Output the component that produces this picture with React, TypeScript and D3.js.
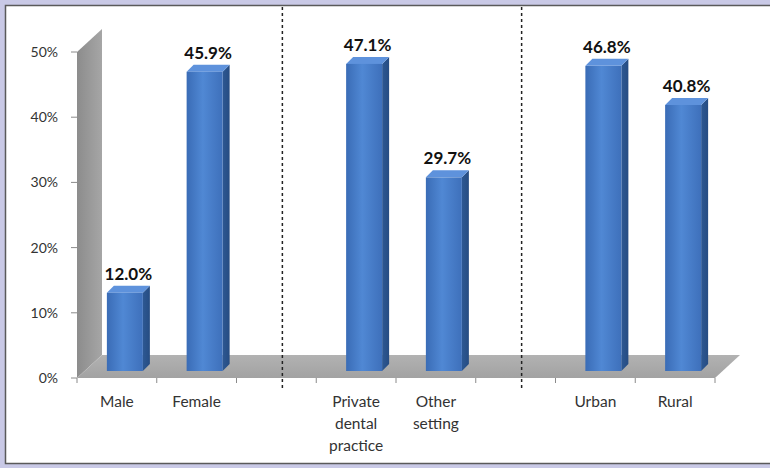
import React from "react";
import * as d3 from "d3";

const categories = ["Male", "Female", "", "Private dental practice", "Other setting", "", "Urban", "Rural"];
const categoryLines: string[][] = [["Male"], ["Female"], [], ["Private", "dental", "practice"], ["Other", "setting"], [], ["Urban"], ["Rural"]];
const values: (number | null)[] = [12.0, 45.9, null, 47.1, 29.7, null, 46.8, 40.8];
const valueLabels = ["12.0%", "45.9%", "", "47.1%", "29.7%", "", "46.8%", "40.8%"];
const yTicks = [0, 10, 20, 30, 40, 50];
const separatorSlots = [2, 5];

const W = 770;
const H = 468;
const FONT = "Lato, 'Open Sans', sans-serif";

export default function App() {
  const x = d3
    .scaleBand<string>()
    .domain(categories.map((_, i) => String(i)))
    .range([77, 715]);
  const y = d3.scaleLinear().domain([0, 50]).range([378, 52]);
  const bw = x.bandwidth();

  const DX = 25;
  const DY = -23;
  const barW = 36;
  const offX = 8;
  const offY = 7;
  const bd = 7;

  const x0 = x.range()[0];
  const x1 = x.range()[1];
  const y0 = y(0);
  const yTop = y(50);

  const wall = `M${x0},${y0} L${x0},${yTop} L${x0 + DX},${yTop + DY} L${x0 + DX},${y0 + DY} Z`;
  const floor = `M${x0},${y0} L${x0 + DX},${y0 + DY} L${x1 + DX},${y0 + DY} L${x1},${y0} Z`;

  return (
    <svg
      width={W}
      height={H}
      style={{ position: "absolute", left: 0, top: 0 }}
      fontFamily={FONT}
    >
      <defs>
        <linearGradient id="barFront" x1="0" x2="1" y1="0" y2="0">
          <stop offset="0" stopColor="#3a6cb6" />
          <stop offset="0.45" stopColor="#5088d4" />
          <stop offset="1" stopColor="#3e70bb" />
        </linearGradient>
        <linearGradient id="barSide" x1="0" x2="1" y1="0" y2="0">
          <stop offset="0" stopColor="#2d5893" />
          <stop offset="1" stopColor="#264c82" />
        </linearGradient>
        <linearGradient id="wallG" x1="0" x2="1" y1="0" y2="0">
          <stop offset="0" stopColor="#8c8c8c" />
          <stop offset="1" stopColor="#a6a6a6" />
        </linearGradient>
        <linearGradient id="floorG" x1="0" x2="0" y1="0" y2="1">
          <stop offset="0" stopColor="#b2b2b2" />
          <stop offset="1" stopColor="#a2a2a2" />
        </linearGradient>
      </defs>

      <rect x={0} y={0} width={W} height={H} fill="#c9c9e6" />
      <rect x={5.5} y={5.5} width={W} height={458} fill="#ffffff" stroke="#5a5a5a" strokeWidth={1.5} />

      <path d={wall} fill="url(#wallG)" />
      <path d={floor} fill="url(#floorG)" />

      {yTicks.map((t) => (
        <g key={t}>
          <line x1={71} x2={x0} y1={y(t)} y2={y(t)} stroke="#8a8a8a" strokeWidth={1} />
          <text x={58} y={y(t) + 5} textAnchor="end" fontSize={14} fill="#333">
            {t}%
          </text>
        </g>
      ))}

      {categories.map((_, i) => (
        <line
          key={"xt" + i}
          x1={x(String(i))!}
          x2={x(String(i))!}
          y1={y0}
          y2={y0 + 5}
          stroke="#8a8a8a"
          strokeWidth={1}
        />
      ))}
      <line x1={x1} x2={x1} y1={y0} y2={y0 + 5} stroke="#8a8a8a" strokeWidth={1} />

      {separatorSlots.map((s) => {
        const sx = x(String(s))! + bw / 2 + 6;
        return (
          <line
            key={"sep" + s}
            x1={sx}
            x2={sx}
            y1={7}
            y2={388}
            stroke="#222"
            strokeWidth={1.5}
            strokeDasharray="3,3"
          />
        );
      })}

      {values.map((v, i) => {
        if (v === null) return null;
        const bx = x(String(i))! + (bw - barW) / 2 + offX;
        const top = y(v) - offY;
        const bot = y(0) - offY;
        const side = `M${bx + barW},${top} L${bx + barW + bd},${top - bd} L${bx + barW + bd},${bot - bd} L${bx + barW},${bot} Z`;
        const topFace = `M${bx},${top} L${bx + bd},${top - bd} L${bx + barW + bd},${top - bd} L${bx + barW},${top} Z`;
        return (
          <g key={"bar" + i}>
            <path d={side} fill="url(#barSide)" />
            <path d={topFace} fill="#5e92dc" />
            <rect x={bx} y={top} width={barW} height={bot - top} fill="url(#barFront)" />
            <text
              x={bx + (barW + bd) / 2}
              y={top - bd - 6}
              textAnchor="middle"
              fontSize={17}
              fontWeight="bold"
              fill="#111"
            >
              {valueLabels[i]}
            </text>
          </g>
        );
      })}

      {categoryLines.map((lines, i) =>
        lines.map((ln, j) => (
          <text
            key={"cl" + i + "-" + j}
            x={x(String(i))! + bw / 2}
            y={407 + j * 22}
            textAnchor="middle"
            fontSize={15.5}
            fill="#333"
          >
            {ln}
          </text>
        ))
      )}
    </svg>
  );
}
